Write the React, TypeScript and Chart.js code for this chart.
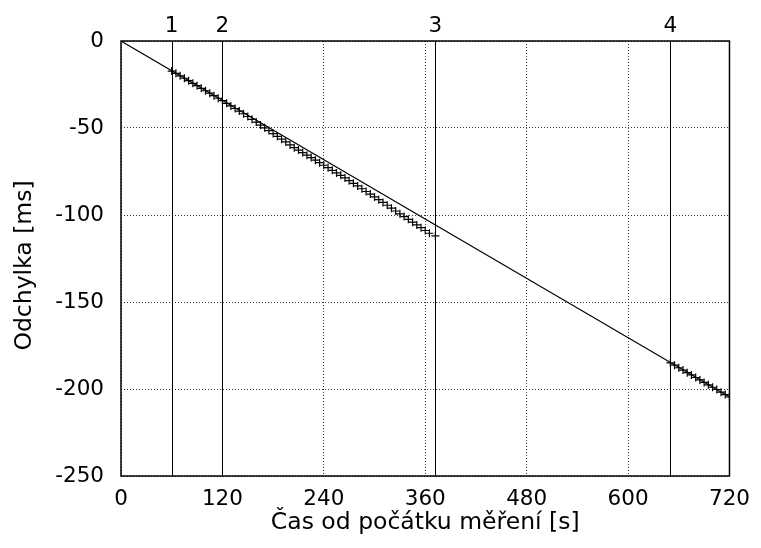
import { useEffect, useRef } from 'react';
import { Chart, registerables } from 'chart.js';

Chart.register(...registerables);

// Measured clock offset, first run (seconds since start of measurement, offset in ms)
const runOneTimes = [
  60, 65, 70, 75, 80, 85, 90, 95, 100, 105, 110, 115, 120, 125, 130, 135, 140, 145, 150, 155,
  160, 165, 170, 175, 180, 185, 190, 195, 200, 205, 210, 215, 220, 225, 230, 235, 240, 245, 250, 255,
  260, 265, 270, 275, 280, 285, 290, 295, 300, 305, 310, 315, 320, 325, 330, 335, 340, 345, 350, 355,
  360, 365, 372,
];
const runOneOffsets = [
  -17.3, -18.6, -20.0, -21.4, -22.8, -24.3, -25.7, -27.2, -28.6, -30.0, -31.4, -32.9, -34.3, -35.8, -37.3, -38.8, -40.3, -41.8, -43.4, -45.0,
  -46.6, -48.3, -49.9, -51.5, -53.2, -54.8, -56.4, -58.0, -59.7, -61.3, -62.7, -64.1, -65.6, -67.0, -68.5, -69.9, -71.4, -72.8, -74.3, -75.8,
  -77.2, -78.7, -80.3, -81.8, -83.3, -84.9, -86.5, -88.0, -89.6, -91.2, -92.8, -94.4, -96.1, -97.7, -99.3, -100.9, -102.5, -104.1, -105.7, -107.3,
  -108.9, -110.5, -112.0,
];

// Measured clock offset, second run
const runTwoTimes = [650, 655, 660, 665, 670, 675, 680, 685, 690, 695, 700, 705, 710, 715, 720];
const runTwoOffsets = [
  -185.0, -186.3, -187.8, -189.1, -190.6, -191.9, -193.4, -194.8, -196.2, -197.6, -199.0, -200.3, -201.8, -203.2, -204.6,
];

// Linear drift fit
const fitTimes = [0, 720];
const fitOffsets = [0, -204.6];

// Event markers
const markerTimes = [60, 120, 372, 650];
const markerLabels = ['1', '2', '3', '4'];

// Axis ticks
const xTickValues = [0, 120, 240, 360, 480, 600, 720];
const yTickValues = [0, -50, -100, -150, -200, -250];

const yAxisTitle = 'Odchylka [ms]';
const xAxisTitle = 'Čas od počátku měření [s]';

const FONT = '"DejaVu Sans", sans-serif';

const toPoints = (xs: number[], ys: number[]) => xs.map((x, i) => ({ x, y: ys[i] }));

const markersPlugin = {
  id: 'eventMarkers',
  afterDatasetsDraw(chart: any) {
    const { ctx, chartArea, scales } = chart;
    const xScale = scales.x;
    ctx.save();
    ctx.strokeStyle = '#000';
    ctx.lineWidth = 1;
    markerTimes.forEach((t) => {
      const px = Math.round(xScale.getPixelForValue(t)) + 0.5;
      ctx.beginPath();
      ctx.moveTo(px, chartArea.top);
      ctx.lineTo(px, chartArea.bottom);
      ctx.stroke();
    });
    ctx.fillStyle = '#000';
    ctx.font = `21.5px ${FONT}`;
    ctx.textAlign = 'center';
    ctx.textBaseline = 'alphabetic';
    markerTimes.forEach((t, i) => {
      const px = xScale.getPixelForValue(t);
      ctx.fillText(markerLabels[i], px, chartArea.top - 9);
    });
    ctx.restore();
  },
  afterDraw(chart: any) {
    const { ctx, chartArea } = chart;
    ctx.save();
    ctx.strokeStyle = '#000';
    ctx.lineWidth = 1.5;
    ctx.strokeRect(
      chartArea.left,
      chartArea.top,
      chartArea.right - chartArea.left,
      chartArea.bottom - chartArea.top
    );
    // vertical axis title
    ctx.fillStyle = '#000';
    ctx.font = `23.5px ${FONT}`;
    ctx.textAlign = 'center';
    ctx.textBaseline = 'middle';
    ctx.translate(25, (chartArea.top + chartArea.bottom) / 2 + 7);
    ctx.rotate(-Math.PI / 2);
    ctx.fillText(yAxisTitle, 0, 0);
    ctx.restore();
  },
};

export default function App() {
  const canvasRef = useRef<HTMLCanvasElement | null>(null);

  useEffect(() => {
    document.body.style.margin = '0';
    const canvas = canvasRef.current;
    if (!canvas) return;
    Chart.defaults.color = '#000';

    const crossStyle = {
      showLine: false,
      pointStyle: 'cross' as const,
      pointRadius: 4,
      borderColor: '#000',
      backgroundColor: '#000',
      pointBorderWidth: 1.2,
    };

    const chart = new Chart(canvas, {
      type: 'scatter',
      data: {
        datasets: [
          {
            label: 'fit',
            data: toPoints(fitTimes, fitOffsets),
            showLine: true,
            borderColor: '#000',
            borderWidth: 1.1,
            pointRadius: 0,
            fill: false,
          },
          { label: 'run 1', data: toPoints(runOneTimes, runOneOffsets), ...crossStyle },
          { label: 'run 2', data: toPoints(runTwoTimes, runTwoOffsets), ...crossStyle },
        ],
      },
      options: {
        responsive: false,
        animation: false,
        devicePixelRatio: 1,
        layout: { padding: { top: 41, right: 29, left: 0, bottom: 0 } },
        plugins: {
          legend: { display: false },
          tooltip: { enabled: false },
        },
        scales: {
          x: {
            type: 'linear',
            min: 0,
            max: 720,
            afterBuildTicks: (s: any) => {
              s.ticks = xTickValues.map((v) => ({ value: v }));
            },
            afterFit: (s: any) => {
              s.height = 72;
            },
            grid: { color: '#333', lineWidth: 1, drawTicks: false },
            border: { display: false, dash: [1, 2] },
            ticks: {
              padding: 11,
              maxRotation: 0,
              font: { family: FONT, size: 21.5 },
              color: '#000',
            },
            title: {
              display: true,
              text: xAxisTitle,
              font: { family: FONT, size: 23.5 },
              color: '#000',
              padding: { top: 0, bottom: 11 },
            },
          },
          y: {
            type: 'linear',
            min: -250,
            max: 0,
            afterBuildTicks: (s: any) => {
              s.ticks = yTickValues.map((v) => ({ value: v }));
            },
            afterFit: (s: any) => {
              s.width = 121;
            },
            grid: { color: '#333', lineWidth: 1, drawTicks: false },
            border: { display: false, dash: [1, 2] },
            ticks: {
              padding: 17,
              font: { family: FONT, size: 21.5 },
              color: '#000',
            },
            title: { display: false },
          },
        },
      },
      plugins: [markersPlugin],
    });

    return () => chart.destroy();
  }, []);

  return <canvas ref={canvasRef} width={761} height={548} style={{ display: 'block' }} />;
}
